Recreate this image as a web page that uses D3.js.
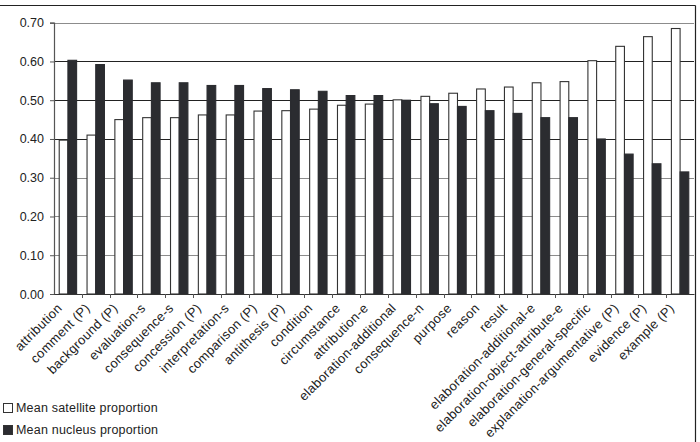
<!DOCTYPE html>
<html><head><meta charset="utf-8">
<script src="https://cdn.jsdelivr.net/npm/d3@7"></script>
<style>
html,body{margin:0;padding:0;background:#fff;}
svg{display:block;font-family:"Liberation Sans",Arial,sans-serif;}
</style></head>
<body>
<svg id="chart" width="700" height="442"></svg>
<script>
const categories = ["attribution","comment (P)","background (P)","evaluation-s","consequence-s","concession (P)","interpretation-s","comparison (P)","antithesis (P)","condition","circumstance","attribution-e","elaboration-additional","consequence-n","purpose","reason","result","elaboration-additional-e","elaboration-object-attribute-e","elaboration-general-specific","explanation-argumentative (P)","evidence (P)","example (P)"];
const satellite = [0.397,0.410,0.450,0.455,0.455,0.462,0.462,0.472,0.473,0.477,0.487,0.490,0.501,0.510,0.518,0.529,0.534,0.545,0.548,0.602,0.639,0.664,0.685];
const nucleus   = [0.603,0.592,0.552,0.545,0.545,0.538,0.538,0.530,0.527,0.523,0.512,0.512,0.500,0.491,0.484,0.473,0.466,0.455,0.455,0.400,0.361,0.336,0.315];
const yTicks = [0.00,0.10,0.20,0.30,0.40,0.50,0.60,0.70];
const seriesNames = ["Mean satellite proportion","Mean nucleus proportion"];

const svg = d3.select("#chart");
const mLeft = 54, mRight = 694, mTop = 22.7, mBottom = 294;

// outer frame
svg.append("line").attr("x1",0).attr("x2",695.5).attr("y1",5.5).attr("y2",5.5).attr("stroke","#222").attr("stroke-width",1.2);
svg.append("line").attr("x1",695.5).attr("x2",695.5).attr("y1",5.5).attr("y2",442).attr("stroke","#222").attr("stroke-width",1.2);

const x = d3.scaleBand().domain(categories).range([mLeft,mRight]).paddingInner(0).paddingOuter(0);
const inner = d3.scaleBand().domain(["s","n"]).range([0,x.bandwidth()]).paddingInner(0).paddingOuter(0.6);
const y = d3.scaleLinear().domain([0,0.7]).range([mBottom,mTop]);

// gridlines
svg.append("g").selectAll("line").data(yTicks.filter(d=>d>0)).join("line")
  .attr("x1",mLeft).attr("x2",mRight)
  .attr("y1",d=>Math.round(y(d))+0.5).attr("y2",d=>Math.round(y(d))+0.5)
  .attr("stroke",d=>(d>=0.35&&d<=0.65)?"#222":"#8c8c8c").attr("stroke-width",1.1);

// bars
const g = svg.append("g");
categories.forEach((c,i)=>{
  g.append("rect").attr("x",x(c)+inner("s")).attr("width",inner.bandwidth())
   .attr("y",y(satellite[i])).attr("height",mBottom-y(satellite[i]))
   .attr("fill","#fff").attr("stroke","#333").attr("stroke-width",1.1);
  g.append("rect").attr("x",x(c)+inner("n")).attr("width",inner.bandwidth())
   .attr("y",y(nucleus[i])).attr("height",mBottom-y(nucleus[i]))
   .attr("fill","#2b2c30").attr("stroke","#2b2c30").attr("stroke-width",1.1);
});

// y axis
const yAxis = svg.append("g").attr("transform",`translate(${mLeft},0)`)
  .call(d3.axisLeft(y).tickValues(yTicks).tickFormat(d3.format(".2f")).tickSize(4).tickPadding(6));
yAxis.select(".domain").attr("stroke","#555").attr("stroke-width",1.2);
yAxis.selectAll(".tick line").attr("stroke","#555");
yAxis.selectAll("text").attr("font-size","12.5px").attr("fill","#222").attr("font-family","Liberation Sans, Arial, sans-serif");

// x axis
const xAxis = svg.append("g").attr("transform",`translate(0,${mBottom})`)
  .call(d3.axisBottom(x).tickSize(0).tickFormat(""));
xAxis.select(".domain").attr("stroke","#333").attr("stroke-width",1.2);
// boundary ticks
svg.append("g").selectAll("line").data(categories.slice(1)).join("line")
  .attr("x1",d=>Math.round(x(d))+0.5).attr("x2",d=>Math.round(x(d))+0.5)
  .attr("y1",mBottom).attr("y2",mBottom+4).attr("stroke","#555");
// labels
svg.append("g").selectAll("text").data(categories).join("text")
  .attr("transform",d=>`translate(${x(d)+x.bandwidth()/2-5},${mBottom+15}) rotate(-45)`)
  .attr("text-anchor","end")
  .attr("font-size","13px").attr("fill","#222").attr("letter-spacing","0.3px")
  .text(d=>d);

// legend
const leg = svg.append("g");
seriesNames.forEach((n,i)=>{
  const cy = 408 + i*22;
  leg.append("rect").attr("x",3.5).attr("y",cy-4.5).attr("width",9).attr("height",9)
    .attr("fill",i===0?"#fff":"#2b2c30").attr("stroke","#333").attr("stroke-width",1);
  leg.append("text").attr("x",16).attr("y",cy).attr("dy","0.35em")
    .attr("font-size","12.5px").attr("fill","#222").attr("letter-spacing","0.2px").text(n);
});
</script>
</body></html>
